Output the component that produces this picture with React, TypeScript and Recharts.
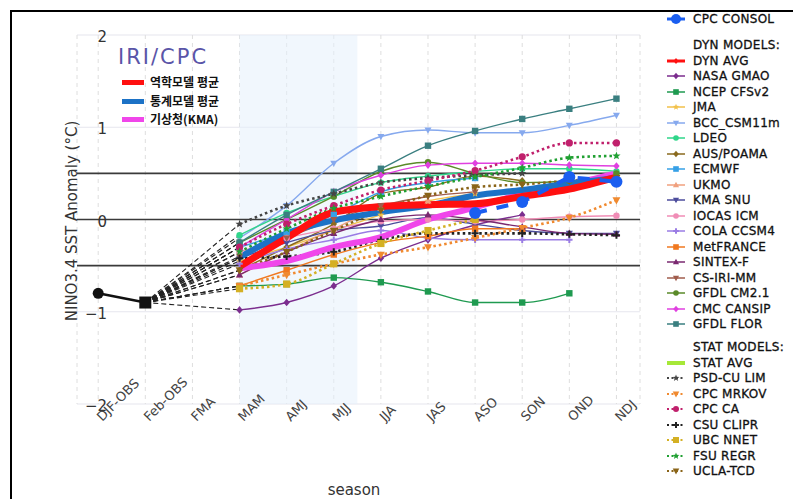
import React from 'react';
import { LineChart, Line, XAxis, YAxis, CartesianGrid, ReferenceLine, ReferenceArea } from 'recharts';

const seasons = ['DJF-OBS', 'Feb-OBS', 'FMA', 'MAM', 'AMJ', 'MJJ', 'JJA', 'JAS', 'ASO', 'SON', 'OND', 'NDJ'];
const firstLead = 3; // forecasts start at MAM
const yTicks = [-2, -1, 0, 1, 2];
const thresholds = [0.5, 0, -0.5];

// observed: DJF, Feb
const observed = [-0.8, -0.9];

// forecasts, MAM .. NDJ
const cpcConsol = [null, null, null, null, null, 0.07, 0.19, 0.46, 0.41];
const dynAvg = [-0.51, -0.2, 0.08, 0.14, 0.16, 0.17, 0.25, 0.33, 0.46];
const statAvg = [-0.41, -0.15, -0.01, 0.08, 0.15, 0.26, 0.32, 0.39, 0.45];
const kma = [-0.53, -0.45, -0.3, -0.19, 0.0, 0.13, 0.28, 0.38, 0.5];

const nasaGmao = [-0.98, -0.9, -0.72, -0.42, -0.22, -0.06, 0.05, null, null];
const ncepCfsv2 = [-0.72, -0.7, -0.63, -0.68, -0.78, -0.9, -0.9, -0.8, null];
const jma = [-0.45, -0.3, -0.12, 0.05, 0.2, 0.28, null, null, null];
const bccCsm = [-0.2, 0.15, 0.61, 0.9, 0.97, 0.94, 0.94, 1.02, 1.13];
const ldeo = [-0.17, 0.07, 0.25, 0.4, 0.47, 0.52, 0.55, 0.55, 0.52];
const ausPoama = [-0.55, -0.3, -0.05, 0.28, 0.35, 0.47, 0.42, null, null];
const ecmwf = [-0.3, -0.14, 0.05, 0.3, 0.4, 0.45, null, null, null];
const ukmo = [-0.6, -0.35, -0.1, 0.12, 0.2, null, null, null, null];
const kmaSnu = [-0.42, -0.25, -0.12, -0.07, 0.02, -0.05, -0.12, -0.15, -0.15];
const iocasIcm = [-0.35, -0.2, -0.1, -0.02, 0.0, -0.02, 0.0, 0.03, 0.04];
const colaCcsm4 = [-0.48, -0.32, -0.22, -0.12, -0.2, -0.22, -0.22, -0.22, null];
const metFrance = [-0.72, -0.55, -0.38, -0.25, -0.18, -0.1, -0.1, null, null];
const sintexF = [-0.6, -0.35, -0.15, 0.0, 0.05, 0.0, -0.08, -0.15, -0.16];
const csIriMm = [-0.4, -0.2, 0.0, 0.15, 0.25, 0.3, null, null, null];
const gfdlCm21 = [-0.25, 0.0, 0.25, 0.52, 0.62, 0.5, 0.4, 0.42, 0.5];
const cmcCansip = [-0.3, 0.0, 0.3, 0.48, 0.59, 0.61, 0.61, 0.59, 0.58];
const gfdlFlor = [-0.25, 0.05, 0.3, 0.55, 0.8, 0.96, 1.09, 1.2, 1.31];

const psdCuLim = [-0.05, 0.15, 0.28, 0.4, 0.45, 0.48, 0.5, null, null];
const cpcMrkov = [-0.72, -0.6, -0.48, -0.38, -0.3, -0.2, -0.09, 0.02, 0.21];
const cpcCa = [-0.3, -0.05, 0.15, 0.32, 0.42, 0.53, 0.68, 0.83, 0.83];
const csuClipr = [-0.42, -0.4, -0.35, -0.22, -0.15, -0.15, -0.15, -0.16, -0.17];
const ubcNnet = [-0.75, -0.7, -0.48, -0.26, -0.12, 0.0, null, null, null];
const fsuRegr = [-0.35, -0.1, 0.12, 0.25, 0.36, 0.46, 0.56, 0.67, 0.69];
const uclaTcd = [-0.55, -0.35, -0.12, 0.1, 0.26, 0.35, 0.38, 0.42, 0.45];

type Shape = 'circle' | 'square' | 'diamond' | 'triangle' | 'triangleDown' | 'plus' | 'star';

interface Model {
  name: string;
  values: (number | null)[];
  color: string;
  shape: Shape;
}

const dynModels: Model[] = [
  { name: 'NASA GMAO', values: nasaGmao, color: '#7b2d8e', shape: 'diamond' },
  { name: 'NCEP CFSv2', values: ncepCfsv2, color: '#1f9a50', shape: 'square' },
  { name: 'JMA', values: jma, color: '#f2c14a', shape: 'star' },
  { name: 'BCC_CSM11m', values: bccCsm, color: '#86a9ee', shape: 'triangleDown' },
  { name: 'LDEO', values: ldeo, color: '#2fd68a', shape: 'circle' },
  { name: 'AUS/POAMA', values: ausPoama, color: '#8a6a1e', shape: 'diamond' },
  { name: 'ECMWF', values: ecmwf, color: '#36a0e6', shape: 'square' },
  { name: 'UKMO', values: ukmo, color: '#f0a07e', shape: 'triangle' },
  { name: 'KMA SNU', values: kmaSnu, color: '#4c4c9c', shape: 'triangleDown' },
  { name: 'IOCAS ICM', values: iocasIcm, color: '#f08db6', shape: 'circle' },
  { name: 'COLA CCSM4', values: colaCcsm4, color: '#9a7ce4', shape: 'plus' },
  { name: 'MetFRANCE', values: metFrance, color: '#f07820', shape: 'square' },
  { name: 'SINTEX-F', values: sintexF, color: '#7a2870', shape: 'triangle' },
  { name: 'CS-IRI-MM', values: csIriMm, color: '#a05c4c', shape: 'triangleDown' },
  { name: 'GFDL CM2.1', values: gfdlCm21, color: '#5a8a28', shape: 'circle' },
  { name: 'CMC CANSIP', values: cmcCansip, color: '#e040e0', shape: 'diamond' },
  { name: 'GFDL FLOR', values: gfdlFlor, color: '#3a7f80', shape: 'square' },
];

const statModels: Model[] = [
  { name: 'PSD-CU LIM', values: psdCuLim, color: '#454545', shape: 'star' },
  { name: 'CPC MRKOV', values: cpcMrkov, color: '#f08a30', shape: 'triangleDown' },
  { name: 'CPC CA', values: cpcCa, color: '#c0206c', shape: 'circle' },
  { name: 'CSU CLIPR', values: csuClipr, color: '#222222', shape: 'plus' },
  { name: 'UBC NNET', values: ubcNnet, color: '#d4b024', shape: 'square' },
  { name: 'FSU REGR', values: fsuRegr, color: '#20a032', shape: 'star' },
  { name: 'UCLA-TCD', values: uclaTcd, color: '#8a6418', shape: 'triangleDown' },
];

const toPoints = (values: (number | null)[]) =>
  values.map((v, i) => ({ x: firstLead + i, y: v })).filter(p => p.y !== null);

const FONT = '"DejaVu Sans", sans-serif';

const Marker = ({ cx, cy, shape, color, r }: { cx: number; cy: number; shape: Shape; color: string; r: number }) => {
  switch (shape) {
    case 'square':
      return <rect x={cx - r} y={cy - r} width={r * 2} height={r * 2} fill={color} />;
    case 'diamond':
      return <polygon points={`${cx},${cy - r * 1.2} ${cx + r},${cy} ${cx},${cy + r * 1.2} ${cx - r},${cy}`} fill={color} />;
    case 'triangle':
      return <polygon points={`${cx},${cy - r * 1.2} ${cx + r * 1.1},${cy + r * 0.8} ${cx - r * 1.1},${cy + r * 0.8}`} fill={color} />;
    case 'triangleDown':
      return <polygon points={`${cx},${cy + r * 1.2} ${cx + r * 1.1},${cy - r * 0.8} ${cx - r * 1.1},${cy - r * 0.8}`} fill={color} />;
    case 'plus':
      return <path d={`M${cx - r},${cy}H${cx + r}M${cx},${cy - r}V${cy + r}`} stroke={color} strokeWidth={2} />;
    case 'star': {
      const pts: string[] = [];
      for (let k = 0; k < 10; k++) {
        const a = -Math.PI / 2 + (k * Math.PI) / 5;
        const rr = k % 2 === 0 ? r * 1.2 : r * 0.5;
        pts.push(`${cx + rr * Math.cos(a)},${cy + rr * Math.sin(a)}`);
      }
      return <polygon points={pts.join(' ')} fill={color} />;
    }
    default:
      return <circle cx={cx} cy={cy} r={r} fill={color} />;
  }
};

const dotFor = (name: string, shape: Shape, color: string, r: number) => (p: any) => (
  <Marker key={`${name}-${p.index}`} cx={p.cx} cy={p.cy} shape={shape} color={color} r={r} />
);

const SeasonTick = ({ x, payload }: any) => (
  <text
    x={x + 4}
    y={422}
    transform={`rotate(-45, ${x + 4}, 422)`}
    fontSize={13}
    fill="#444"
    fontFamily={FONT}
  >
    {seasons[payload.value]}
  </text>
);

const ValueTick = ({ y, payload }: any) => (
  <text x={107} y={y + 7} textAnchor="end" fontSize={15} fill="#333" fontFamily={FONT}>
    {payload.value < 0 ? `−${-payload.value}` : payload.value}
  </text>
);

const LegendIcon = ({ color, shape, dotted, width = 2, r = 3 }: any) => (
  <svg width={20} height={12} style={{ position: 'absolute', left: 0, top: 0 }}>
    <line x1={1} y1={6} x2={19} y2={6} stroke={color} strokeWidth={width} strokeDasharray={dotted ? '2 2.5' : undefined} />
    {shape && <Marker cx={10} cy={6} shape={shape} color={color} r={r} />}
  </svg>
);

const legendRow = (label: string, top: number, icon?: React.ReactNode) => (
  <div key={label} style={{ position: 'absolute', left: 666, top: top - 7, height: 14 }}>
    {icon}
    <span
      style={{
        position: 'absolute',
        left: 27,
        top: -1,
        whiteSpace: 'nowrap',
        fontFamily: FONT,
        fontSize: 12,
        letterSpacing: 0.3,
        color: '#111',
        WebkitTextStroke: '0.3px #111',
      }}
    >
      {label}
    </span>
  </div>
);

export default function App() {
  const step = 15.5;
  const dynTop = 61.5;
  const statTop = 363.5;

  const fanTargets = [...dynModels, ...statModels].map(m => m.values[0] as number);

  return (
    <div style={{ position: 'absolute', left: 0, top: 0, width: 793, height: 499, background: '#fff', overflow: 'hidden' }}>
      <div style={{ position: 'absolute', left: 10, top: 10, width: 800, height: 500, borderTop: '2px solid #000', borderLeft: '2px solid #000' }} />

      <LineChart width={793} height={499} margin={{ top: 35, right: 153, bottom: 35, left: 47 }} style={{ position: 'absolute', left: 0, top: 0 }}>
        <ReferenceArea x1={3} x2={5.5} y1={-2} y2={2} fill="#e6f0fb" fillOpacity={0.55} stroke="none" ifOverflow="hidden" />
        <CartesianGrid vertical={false} stroke="#e6e6ee" strokeWidth={1.2} />
        <CartesianGrid horizontal={false} stroke="#dedede" strokeDasharray="4 4" />
        <XAxis
          dataKey="x"
          type="number"
          domain={[-0.45, 11.5]}
          ticks={seasons.map((_, i) => i)}
          interval={0}
          axisLine={false}
          tickLine={false}
          tick={<SeasonTick />}
          height={60}
          allowDataOverflow
        />
        <YAxis
          dataKey="y"
          type="number"
          domain={[-2, 2]}
          ticks={yTicks}
          axisLine={false}
          tickLine={false}
          tick={<ValueTick />}
          width={30}
          allowDataOverflow
        />
        {thresholds.map(t => (
          <ReferenceLine key={t} y={t} stroke="#3a3a3a" strokeWidth={1.6} />
        ))}

        {fanTargets.map((v, i) => (
          <Line
            key={`fan-${i}`}
            data={[{ x: 1, y: observed[1] }, { x: firstLead, y: v }]}
            dataKey="y"
            type="linear"
            stroke="#222"
            strokeWidth={1.1}
            strokeDasharray="5 3"
            dot={false}
            isAnimationActive={false}
          />
        ))}

        {dynModels.map(m => (
          <Line
            key={m.name}
            data={toPoints(m.values)}
            dataKey="y"
            type="monotone"
            stroke={m.color}
            strokeWidth={1.4}
            dot={dotFor(m.name, m.shape, m.color, 3.2)}
            isAnimationActive={false}
          />
        ))}

        {statModels.map(m => (
          <Line
            key={m.name}
            data={toPoints(m.values)}
            dataKey="y"
            type="monotone"
            stroke={m.color}
            strokeWidth={2.6}
            strokeDasharray="2.5 3"
            dot={dotFor(m.name, m.shape, m.color, 3.6)}
            isAnimationActive={false}
          />
        ))}

        <Line data={toPoints(kma)} dataKey="y" type="monotone" stroke="#f046ea" strokeWidth={6} dot={false} isAnimationActive={false} />
        <Line data={toPoints(statAvg)} dataKey="y" type="monotone" stroke="#1c72c6" strokeWidth={6} dot={false} isAnimationActive={false} />
        <Line data={toPoints(dynAvg)} dataKey="y" type="monotone" stroke="#ff1010" strokeWidth={7} dot={false} isAnimationActive={false} />
        <Line
          data={toPoints(cpcConsol)}
          dataKey="y"
          type="linear"
          stroke="#1a5ef0"
          strokeWidth={4}
          strokeDasharray="12 10"
          dot={dotFor('cpc', 'circle', '#1a5ef0', 6)}
          isAnimationActive={false}
        />

        <Line
          data={observed.map((v, i) => ({ x: i, y: v }))}
          dataKey="y"
          type="linear"
          stroke="#111"
          strokeWidth={2.5}
          dot={(p: any) =>
            p.index === 0 ? (
              <circle key="obs-0" cx={p.cx} cy={p.cy} r={5.5} fill="#111" />
            ) : (
              <rect key="obs-1" x={p.cx - 6} y={p.cy - 6} width={12} height={12} fill="#111" />
            )
          }
          isAnimationActive={false}
        />
      </LineChart>

      {/* axis titles */}
      <div
        style={{
          position: 'absolute',
          left: 72,
          top: 221,
          transform: 'translate(-50%, -50%) rotate(-90deg)',
          whiteSpace: 'nowrap',
          fontFamily: FONT,
          fontSize: 15,
          color: '#333',
        }}
      >
        NINO3.4 SST Anomaly (°C)
      </div>
      <div style={{ position: 'absolute', left: 354, top: 490, transform: 'translate(-50%, -50%)', fontFamily: FONT, fontSize: 15, color: '#333' }}>
        season
      </div>

      {/* inset legend */}
      <div style={{ position: 'absolute', left: 118, top: 45, fontFamily: FONT, fontSize: 21, letterSpacing: 2, color: '#5a55a8' }}>IRI/CPC</div>
      {[
        { label: '역학모델 평균', color: '#ff1010', y: 82 },
        { label: '통계모델 평균', color: '#1c72c6', y: 101 },
        { label: '기상청(KMA)', color: '#f046ea', y: 119 },
      ].map(it => (
        <div key={it.label}>
          <div style={{ position: 'absolute', left: 122, top: it.y - 2.5, width: 22, height: 5, background: it.color }} />
          <div
            style={{
              position: 'absolute',
              left: 150,
              top: it.y - 9,
              fontFamily: '"Noto Sans CJK KR", sans-serif',
              fontWeight: 700,
              fontSize: 12,
              color: '#111',
              whiteSpace: 'nowrap',
            }}
          >
            {it.label}
          </div>
        </div>
      ))}

      {/* right legend */}
      {legendRow('CPC CONSOL', 20, <LegendIcon color="#1a5ef0" shape="circle" width={3} r={5} />)}
      {legendRow('DYN MODELS:', dynTop - step)}
      {legendRow('DYN AVG', dynTop, <LegendIcon color="#ff1010" shape="diamond" width={3} r={2.5} />)}
      {dynModels.map((m, i) => legendRow(m.name, dynTop + step * (i + 1), <LegendIcon color={m.color} shape={m.shape} width={1.5} r={2.8} />))}
      {legendRow('STAT MODELS:', statTop - step)}
      {legendRow('STAT AVG', statTop, <LegendIcon color="#a6e838" width={4} />)}
      {statModels.map((m, i) => legendRow(m.name, statTop + step * (i + 1), <LegendIcon color={m.color} shape={m.shape} dotted width={2} r={3} />))}
    </div>
  );
}
